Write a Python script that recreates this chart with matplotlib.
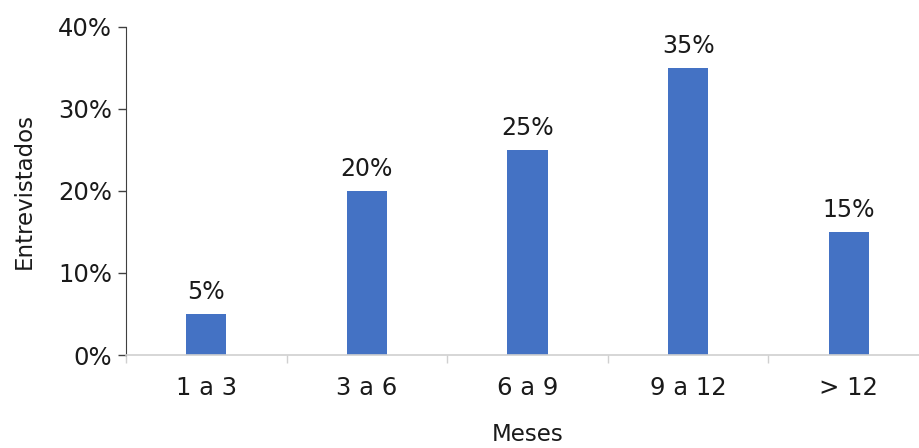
import matplotlib
matplotlib.use("Agg")
import matplotlib.pyplot as plt
import numpy as np
from matplotlib.ticker import PercentFormatter, FixedLocator

# months unemployed vs share of interviewees
categorias = ["1 a 3", "3 a 6", "6 a 9", "9 a 12", "> 12"]
porcentagens = [5, 20, 25, 35, 15]
y_ticks = [0, 10, 20, 30, 40]

plt.rcParams['font.family'] = ['DejaVu Sans']

fig = plt.figure(figsize=(9.19, 4.48), dpi=100)
ax = fig.add_axes([126/919, 93/448, 803/919, 328/448])

x = np.arange(len(categorias))
ax.bar(x, porcentagens, width=0.25, color="#4472C4", zorder=2)

for xi, v in zip(x, porcentagens):
    ax.annotate(f"{v}%", (xi, v), xytext=(0, 7), textcoords="offset points",
                ha="center", va="bottom", fontsize=17, color="#1a1a1a")

ax.set_xlim(-0.5, len(categorias) - 0.5)
ax.set_ylim(0, 40)
ax.set_yticks(y_ticks)
ax.yaxis.set_major_formatter(PercentFormatter(decimals=0))

ax.set_xticks(x)
ax.set_xticklabels(categorias)
ax.xaxis.set_minor_locator(FixedLocator(np.arange(-0.5, len(categorias), 1.0)))
ax.tick_params(axis="x", which="major", length=0, pad=15, labelsize=17.5, labelcolor="#1a1a1a")
ax.tick_params(axis="x", which="minor", length=6, width=1, color="#d0d0d0")
ax.tick_params(axis="y", length=6, width=1, color="#404040", labelsize=17.5,
               labelcolor="#1a1a1a", pad=4)

for s in ["top", "right"]:
    ax.spines[s].set_visible(False)
ax.spines["left"].set_color("#404040")
ax.spines["bottom"].set_color("#d0d0d0")
ax.spines["bottom"].set_linewidth(1.2)

ax.set_ylabel("Entrevistados", fontsize=16.5, color="#1a1a1a", labelpad=16)
ax.set_xlabel("Meses", fontsize=16.5, color="#1a1a1a", labelpad=17)

fig.savefig("out.png", dpi=100)
